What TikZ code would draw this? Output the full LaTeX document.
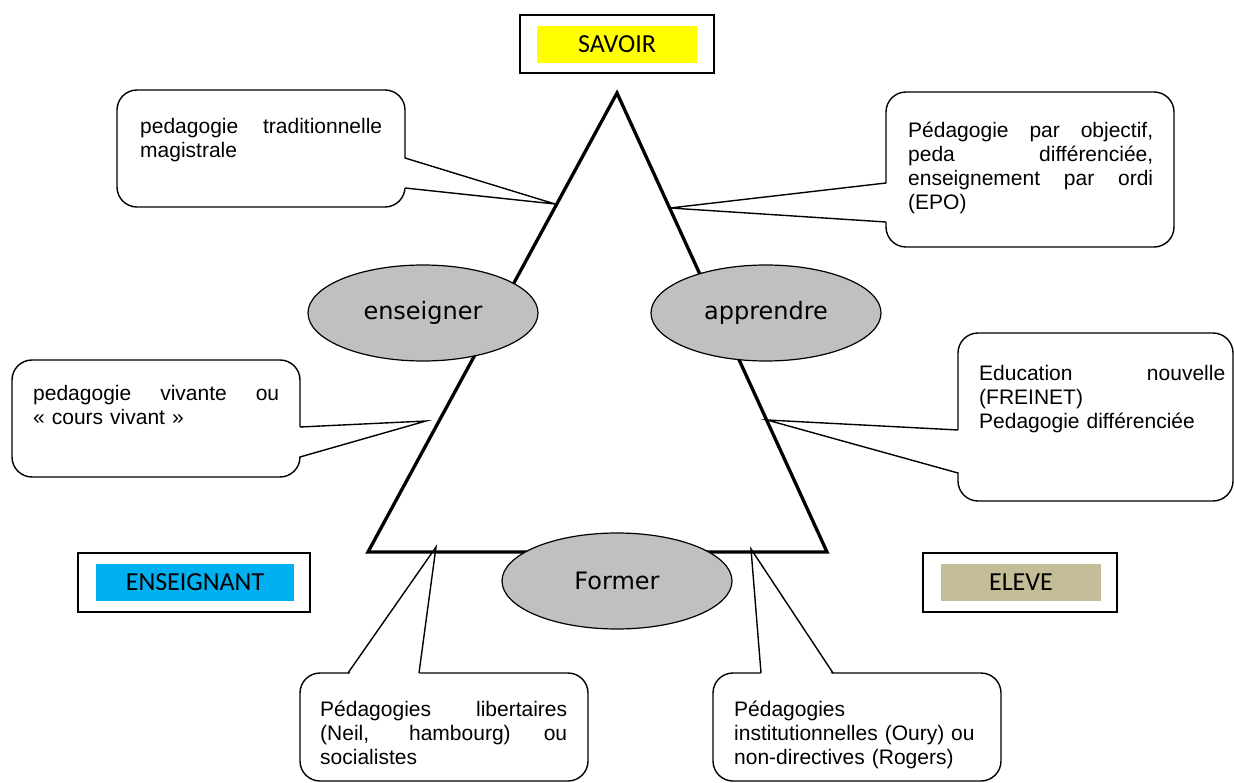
\documentclass[tikz,border=0pt]{standalone}
\usepackage{fontspec}
\usetikzlibrary{shapes.geometric}
\newfontfamily\arialf{Liberation Sans}
\newfontfamily\calf{Carlito}
\newfontfamily\comicf{DejaVu Sans}
\definecolor{savoiryellow}{HTML}{FFFF00}
\definecolor{enscyan}{HTML}{00B0F0}
\definecolor{elevetan}{HTML}{C4BD97}
\definecolor{ellgray}{HTML}{C0C0C0}
\newcommand{\jl}[2]{{\spaceskip=0pt\xspaceskip=0pt\makebox[#1][s]{\strut #2}}}
\begin{document}
\begin{tikzpicture}[x=1pt,y=-1pt,
  callbox/.style={draw, fill=white, rounded corners=20pt, line width=1.4pt, inner sep=0},
  calltext/.style={anchor=north west, inner sep=0, align=left, font=\arialf\fontsize{21}{24.15}\selectfont},
  tail/.style={line width=1.4pt},
  frame/.style={draw, line width=2pt, inner sep=0},
  labelbox/.style={inner sep=0, font=\calf\fontsize{26}{30}\selectfont},
  ell/.style={ellipse, draw, line width=1.2pt, fill=ellgray, inner sep=0, minimum width=230pt, minimum height=96pt, font=\comicf\fontsize{24}{28}\selectfont},
  tri/.style={line width=3.3pt}]
\useasboundingbox (0,0) rectangle (1234,783);
\clip (0,0) rectangle (1234,783);

% top-left callout
\node[callbox, minimum width=288pt, minimum height=117pt] (c1) at (261,148.5) {};
\coordinate (c1a) at (405,158); \coordinate (c1b) at (405,188); \coordinate (c1t) at (555,204);
\fill[white] ([xshift=-3pt]c1a) -- (c1t) -- ([xshift=-3pt]c1b) -- cycle;
\draw[tail] (c1a) -- (c1t) -- (c1b);
\node[calltext, text width=245pt] (t1) at (140,116) {\jl{242pt}{pedagogie traditionnelle}\\\strut magistrale};

% top-right callout
\node[callbox, minimum width=288pt, minimum height=155pt] (c2) at (1030,169.5) {};
\coordinate (c2a) at (886,183); \coordinate (c2b) at (886,222); \coordinate (c2t) at (670,208);
\fill[white] ([xshift=3pt]c2a) -- (c2t) -- ([xshift=3pt]c2b) -- cycle;
\draw[tail] (c2a) -- (c2t) -- (c2b);
\node[calltext, text width=250pt] (t2) at (908,120) {\jl{245pt}{Pédagogie par objectif,}\\\jl{245pt}{peda différenciée,}\\\jl{245pt}{enseignement par ordi}\\\strut(EPO)};

% middle-left callout
\node[callbox, minimum width=288pt, minimum height=117pt] (c3) at (156,418.5) {};
\coordinate (c3a) at (300,427); \coordinate (c3b) at (300,457); \coordinate (c3t) at (426,421);
\fill[white] ([xshift=-3pt]c3a) -- (c3t) -- ([xshift=-3pt]c3b) -- cycle;
\draw[tail] (c3a) -- (c3t) -- (c3b);
\node[calltext, text width=250pt] (t3) at (33,383) {\jl{246pt}{pedagogie vivante ou}\\\strut« cours vivant »};

% middle-right callout
\node[callbox, minimum width=275pt, minimum height=168pt] (c4) at (1095.5,417) {};
\coordinate (c4a) at (958,430); \coordinate (c4b) at (958,473); \coordinate (c4t) at (767,420);
\fill[white] ([xshift=3pt]c4a) -- (c4t) -- ([xshift=3pt]c4b) -- cycle;
\draw[tail] (c4a) -- (c4t) -- (c4b);
\node[calltext, text width=250pt] (t4) at (979,363) {\jl{246pt}{Education nouvelle}\\\strut(FREINET)\\\strut Pedagogie différenciée};

% bottom-left callout
\node[callbox, minimum width=288pt, minimum height=108pt] (c5) at (444,727) {};
\coordinate (c5a) at (348,673); \coordinate (c5b) at (419,673); \coordinate (c5t) at (436,547);
\fill[white] ([yshift=-3pt]c5a) -- (c5t) -- ([yshift=-3pt]c5b) -- cycle;
\draw[tail] (c5a) -- (c5t) -- (c5b);
\node[calltext, text width=250pt] (t5) at (320,699) {\jl{247pt}{Pédagogies libertaires}\\\jl{247pt}{(Neil, hambourg) ou}\\\strut socialistes};

% bottom-right callout
\node[callbox, minimum width=288pt, minimum height=108pt] (c6) at (857,727) {};
\coordinate (c6a) at (761,673); \coordinate (c6b) at (833,673); \coordinate (c6t) at (751,549);
\fill[white] ([yshift=-3pt]c6a) -- (c6t) -- ([yshift=-3pt]c6b) -- cycle;
\draw[tail] (c6a) -- (c6t) -- (c6b);
\node[calltext, text width=255pt] (t6) at (734,699) {\strut Pédagogies\\\strut institutionnelles (Oury) ou\\\strut non-directives (Rogers)};

% triangle
\coordinate (apex) at (617,93); \coordinate (bl) at (368,552); \coordinate (br) at (827,552);
\draw[tri] (apex) -- (bl) -- (br) -- cycle;

% ellipses
\node[ell] (ens) at (423,313) {enseigner};
\node[ell] (app) at (766,313) {apprendre};
\node[ell] (form) at (617,581) {Former};

% label boxes
\node[frame, minimum width=194pt, minimum height=58pt] (savf) at (617,44) {};
\node[labelbox, fill=savoiryellow, minimum width=160pt, minimum height=37pt] (sav) at (617,44.5) {SAVOIR};
\node[frame, minimum width=232pt, minimum height=59pt] (ensf) at (194,582.5) {};
\node[labelbox, fill=enscyan, minimum width=198pt, minimum height=37pt] (ensl) at (195,582.5) {ENSEIGNANT};
\node[frame, minimum width=194pt, minimum height=59pt] (elef) at (1020,582.5) {};
\node[labelbox, fill=elevetan, minimum width=160pt, minimum height=37pt] (elel) at (1021,582.5) {ELEVE};
\end{tikzpicture}
\end{document}
